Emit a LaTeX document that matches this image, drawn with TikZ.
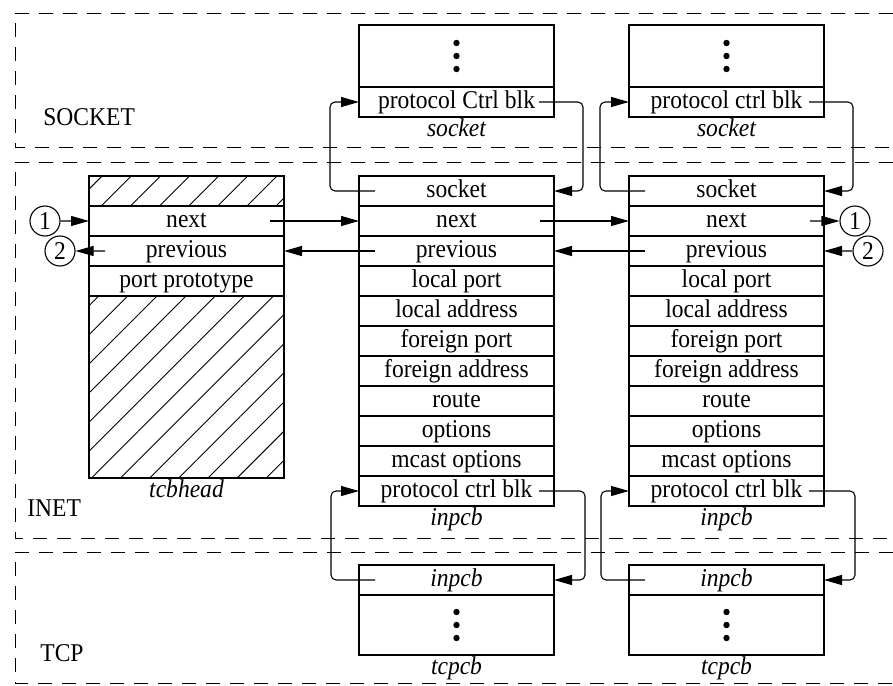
\documentclass[tikz,border=0pt]{standalone}
\usepackage{fontspec}
\setmainfont{Liberation Serif}[FakeStretch=0.92]
\usetikzlibrary{arrows.meta, positioning, calc, patterns.meta}
\newcommand{\figfont}{\fontsize{12.8bp}{15bp}\selectfont}

\begin{document}
\begin{tikzpicture}[
  x=0.5bp, y=-0.5bp,
  every node/.style={font=\figfont},
  field/.style={
    draw, line width=0.55pt, minimum width=97.5bp, minimum height=15bp,
    inner sep=0pt, outer sep=0pt, text height=8.8bp, text depth=2.8bp
  },
  hatch/.style={field, pattern={Lines[angle=45, distance=10.3bp, line width=0.45pt]}},
  caption/.style={font=\figfont\itshape, inner sep=0.5bp, text height=8.8bp, text depth=2.8bp},
  layer/.style={inner sep=0pt, anchor=west},
  region/.style={dash pattern=on 7bp off 5bp, line width=0.45pt},
  ptr/.style={-{Triangle[length=9bp, width=5bp]}, line width=0.55pt, rounded corners=2.5bp},
  num/.style={draw, circle, line width=0.55pt, minimum size=15bp, inner sep=0pt}
]
  \useasboundingbox (0,0) rectangle (893,686);

  % Ebenen (gestrichelte Rahmen)
  \draw[region] (893,13) -| (15,147) -- (893,147);
  \draw[region] (893,162) -| (15,538) -- (893,538);
  \draw[region] (893,552) -| (15,683) -- (893,683);
  \node[layer] (socket-lbl) at (43,117) {SOCKET};
  \node[layer] (inet-lbl) at (27,508) {INET};
  \node[layer] (tcp-lbl) at (40,653) {TCP};

  % socket-Strukturen
  \node[field, minimum height=31bp, anchor=north west] (s1-top) at (359,25) {};
  \node[field, below=0pt of s1-top] (s1-pcb) {protocol Ctrl blk};
  \node[caption, below=0pt of s1-pcb] (s1-cap) {socket};
  \node[field, minimum height=31bp, anchor=north west] (s2-top) at (629,25) {};
  \node[field, below=0pt of s2-top] (s2-pcb) {protocol ctrl blk};
  \node[caption, below=0pt of s2-pcb] (s2-cap) {socket};

  % tcbhead
  \node[hatch, anchor=north west] (t-top) at (89,176) {};
  \node[field, below=0pt of t-top] (t-next) {next};
  \node[field, below=0pt of t-next] (t-prev) {previous};
  \node[field, below=0pt of t-prev] (t-port) {port prototype};
  \node[hatch, minimum height=91bp, below=0pt of t-port] (t-rest) {};
  \node[caption, below=0pt of t-rest] (t-cap) {tcbhead};

  % inpcb-Strukturen
  \foreach \b/\x in {m/359, r/629} {
    \node[field, anchor=north west] (\b-socket) at (\x,176) {socket};
    \node[field, below=0pt of \b-socket] (\b-next) {next};
    \node[field, below=0pt of \b-next] (\b-prev) {previous};
    \node[field, below=0pt of \b-prev] (\b-lport) {local port};
    \node[field, below=0pt of \b-lport] (\b-laddr) {local address};
    \node[field, below=0pt of \b-laddr] (\b-fport) {foreign port};
    \node[field, below=0pt of \b-fport] (\b-faddr) {foreign address};
    \node[field, below=0pt of \b-faddr] (\b-route) {route};
    \node[field, below=0pt of \b-route] (\b-opt) {options};
    \node[field, below=0pt of \b-opt] (\b-mopt) {mcast options};
    \node[field, below=0pt of \b-mopt] (\b-pcb) {protocol ctrl blk};
    \node[caption, below=0pt of \b-pcb] (\b-cap) {inpcb};
  }

  % tcpcb-Strukturen
  \node[field, anchor=north west] (p1-inpcb) at (359,565) {\itshape inpcb};
  \node[field, minimum height=30bp, below=0pt of p1-inpcb] (p1-rest) {};
  \node[caption, below=0pt of p1-rest] (p1-cap) {tcpcb};
  \node[field, anchor=north west] (p2-inpcb) at (629,565) {\itshape inpcb};
  \node[field, minimum height=30bp, below=0pt of p2-inpcb] (p2-rest) {};
  \node[caption, below=0pt of p2-rest] (p2-cap) {tcpcb};

  \foreach \n in {s1-top, s2-top, p1-rest, p2-rest}
    \foreach \d in {-13, 0, 13}
      \fill ($(\n.center)+(0,\d)$) circle (1.6bp);

  % Listenenden
  \node[num] (c1l) at (45,221) {1};
  \node[num] (c2l) at (60,251) {2};
  \node[num] (c1r) at (855,221) {1};
  \node[num] (c2r) at (868,251) {2};

  % next / previous
  \draw[ptr] (c1l) -- (t-next.west);
  \draw[ptr] ($(t-next.east)+(-14,0)$) -- (m-next.west);
  \draw[ptr] ($(m-next.east)+(-14,0)$) -- (r-next.west);
  \draw[ptr] ($(r-next.east)+(-14,0)$) -- (c1r);
  \draw[ptr] (c2r) -- (r-prev.east);
  \draw[ptr] ($(r-prev.west)+(16,0)$) -- (m-prev.east);
  \draw[ptr] ($(m-prev.west)+(16,0)$) -- (t-prev.east);
  \draw[ptr] ($(t-prev.west)+(16,0)$) -- (c2l);

  % socket <-> inpcb
  \draw[ptr] ($(m-socket.west)+(16,0)$) -| ($(s1-pcb.west)+(-29,0)$) -- (s1-pcb.west);
  \draw[ptr] ($(s1-pcb.east)+(-15,0)$) -| ($(m-socket.east)+(29,0)$) -- (m-socket.east);
  \draw[ptr] ($(r-socket.west)+(16,0)$) -| ($(s2-pcb.west)+(-29,0)$) -- (s2-pcb.west);
  \draw[ptr] ($(s2-pcb.east)+(-15,0)$) -| ($(r-socket.east)+(29,0)$) -- (r-socket.east);

  % inpcb <-> tcpcb
  \draw[ptr] ($(p1-inpcb.west)+(16,0)$) -| ($(m-pcb.west)+(-28,0)$) -- (m-pcb.west);
  \draw[ptr] ($(m-pcb.east)+(-15,0)$) -| ($(p1-inpcb.east)+(31,0)$) -- (p1-inpcb.east);
  \draw[ptr] ($(p2-inpcb.west)+(16,0)$) -| ($(r-pcb.west)+(-28,0)$) -- (r-pcb.west);
  \draw[ptr] ($(r-pcb.east)+(-15,0)$) -| ($(p2-inpcb.east)+(31,0)$) -- (p2-inpcb.east);

\end{tikzpicture}
\end{document}
